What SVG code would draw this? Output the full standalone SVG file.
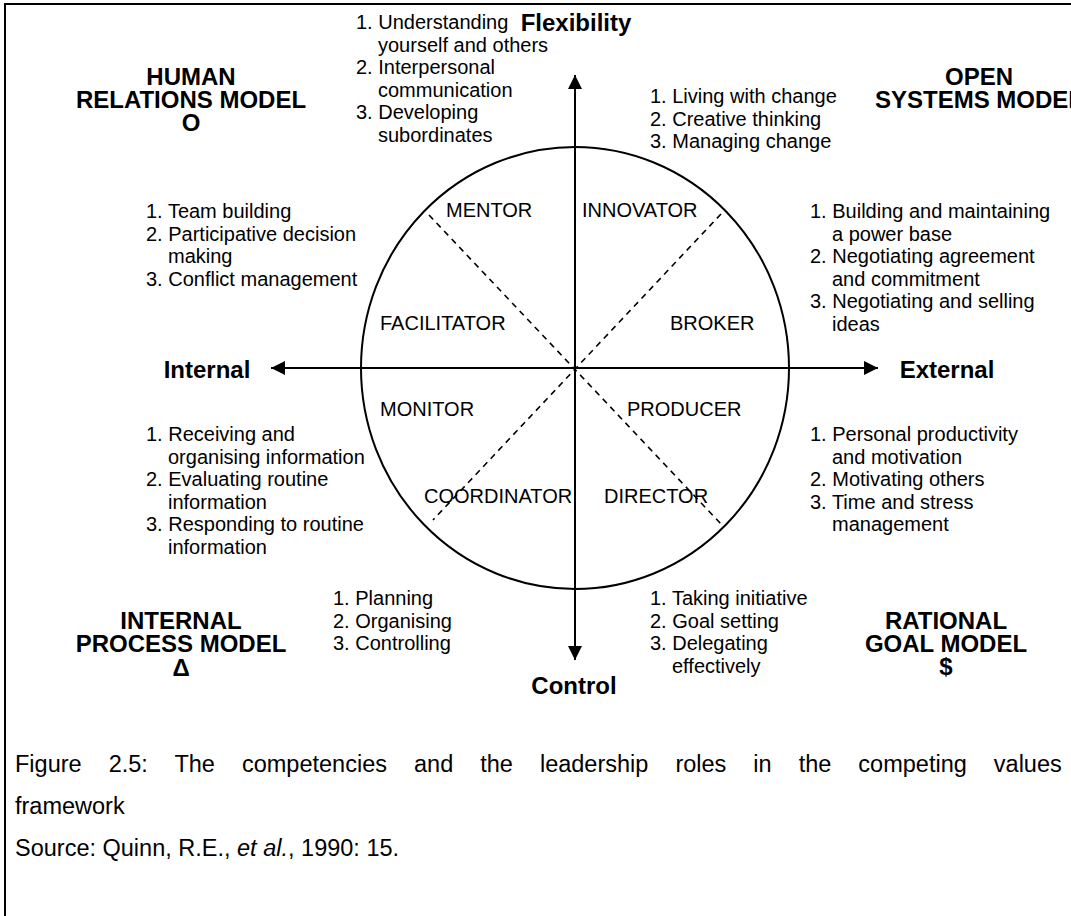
<svg xmlns="http://www.w3.org/2000/svg" width="1071" height="916" viewBox="0 0 1071 916">
<style>
text{font-family:"Liberation Sans",Arial,sans-serif;fill:#000}
.r{font-size:20px}
.b{font-size:24px;font-weight:bold;text-anchor:middle}
.cap{font-size:23.5px}
.ax{stroke:#000;stroke-width:2;fill:none}
.dash{stroke:#000;stroke-width:1.6;stroke-dasharray:6 5;fill:none}
</style>
<defs>
<marker id="arr" markerUnits="userSpaceOnUse" markerWidth="14" markerHeight="14" refX="14" refY="7" orient="auto"><path d="M0,0 L14,7 L0,14 z" fill="#000"/></marker>
</defs>
<rect x="5" y="4" width="1100" height="1000" fill="none" stroke="#000" stroke-width="2"/>
<g id="circle"><ellipse cx="575" cy="368" rx="214" ry="221" class="ax"/></g>
<g id="connectors">
<line x1="575" y1="368" x2="575" y2="75" class="ax" marker-end="url(#arr)"/>
<line x1="575" y1="368" x2="575" y2="660" class="ax" marker-end="url(#arr)"/>
<line x1="575" y1="368" x2="271" y2="368" class="ax" marker-end="url(#arr)"/>
<line x1="575" y1="368" x2="878" y2="368" class="ax" marker-end="url(#arr)"/>
<line x1="429" y1="215" x2="721" y2="524" class="dash"/>
<line x1="721" y1="214" x2="433" y2="520" class="dash"/>
</g>
<g id="axis-labels">
<text class="b" x="576" y="31">Flexibility</text>
<text class="b" x="574" y="694">Control</text>
<text class="b" x="207" y="378">Internal</text>
<text class="b" x="947" y="378">External</text>
</g>
<g id="model-human"><text class="b" x="191" y="85">HUMAN<tspan x="191" dy="23">RELATIONS MODEL</tspan><tspan x="191" dy="23">O</tspan></text></g>
<g id="model-open"><text class="b" x="979" y="85">OPEN<tspan x="979" dy="23">SYSTEMS MODEL</tspan></text></g>
<g id="model-internal"><text class="b" x="181" y="629">INTERNAL<tspan x="181" dy="23">PROCESS MODEL</tspan><tspan x="181" dy="24">Δ</tspan></text></g>
<g id="model-rational"><text class="b" x="946" y="629">RATIONAL<tspan x="946" dy="23">GOAL MODEL</tspan><tspan x="946" dy="23">$</tspan></text></g>
<g id="roles" class="r">
<text class="r" x="446" y="217">MENTOR</text>
<text class="r" x="582" y="217">INNOVATOR</text>
<text class="r" x="380" y="330">FACILITATOR</text>
<text class="r" x="670" y="330">BROKER</text>
<text class="r" x="380" y="416">MONITOR</text>
<text class="r" x="627" y="416">PRODUCER</text>
<text class="r" x="424" y="503">COORDINATOR</text>
<text class="r" x="604" y="503">DIRECTOR</text>
</g>
<g id="list-mentor"><text class="r" x="356" y="29">1. Understanding<tspan x="378" dy="22.5">yourself and others</tspan><tspan x="356" dy="22.5">2. Interpersonal</tspan><tspan x="378" dy="22.5">communication</tspan><tspan x="356" dy="22.5">3. Developing</tspan><tspan x="378" dy="22.5">subordinates</tspan></text></g>
<g id="list-innovator"><text class="r" x="650" y="103">1. Living with change<tspan x="650" dy="22.5">2. Creative thinking</tspan><tspan x="650" dy="22.5">3. Managing change</tspan></text></g>
<g id="list-facilitator"><text class="r" x="146" y="218">1. Team building<tspan x="146" dy="22.5">2. Participative decision</tspan><tspan x="168" dy="22.5">making</tspan><tspan x="146" dy="22.5">3. Conflict management</tspan></text></g>
<g id="list-broker"><text class="r" x="810" y="218">1. Building and maintaining<tspan x="832" dy="22.5">a power base</tspan><tspan x="810" dy="22.5">2. Negotiating agreement</tspan><tspan x="832" dy="22.5">and commitment</tspan><tspan x="810" dy="22.5">3. Negotiating and selling</tspan><tspan x="832" dy="22.5">ideas</tspan></text></g>
<g id="list-monitor"><text class="r" x="146" y="441">1. Receiving and<tspan x="168" dy="22.5">organising information</tspan><tspan x="146" dy="22.5">2. Evaluating routine</tspan><tspan x="168" dy="22.5">information</tspan><tspan x="146" dy="22.5">3. Responding to routine</tspan><tspan x="168" dy="22.5">information</tspan></text></g>
<g id="list-producer"><text class="r" x="810" y="441">1. Personal productivity<tspan x="832" dy="22.5">and motivation</tspan><tspan x="810" dy="22.5">2. Motivating others</tspan><tspan x="810" dy="22.5">3. Time and stress</tspan><tspan x="832" dy="22.5">management</tspan></text></g>
<g id="list-coordinator"><text class="r" x="333" y="605">1. Planning<tspan x="333" dy="22.5">2. Organising</tspan><tspan x="333" dy="22.5">3. Controlling</tspan></text></g>
<g id="list-director"><text class="r" x="650" y="605">1. Taking initiative<tspan x="650" dy="22.5">2. Goal setting</tspan><tspan x="650" dy="22.5">3. Delegating</tspan><tspan x="672" dy="22.5">effectively</tspan></text></g>
<g id="caption">
<text class="cap" x="15" y="772" word-spacing="20.5">Figure 2.5: The competencies and the leadership roles in the competing values</text>
<text class="cap" x="15" y="814">framework</text>
<text class="cap" x="15" y="856">Source: Quinn, R.E., <tspan font-style="italic">et al.</tspan>, 1990: 15.</text>
</g>
</svg>
